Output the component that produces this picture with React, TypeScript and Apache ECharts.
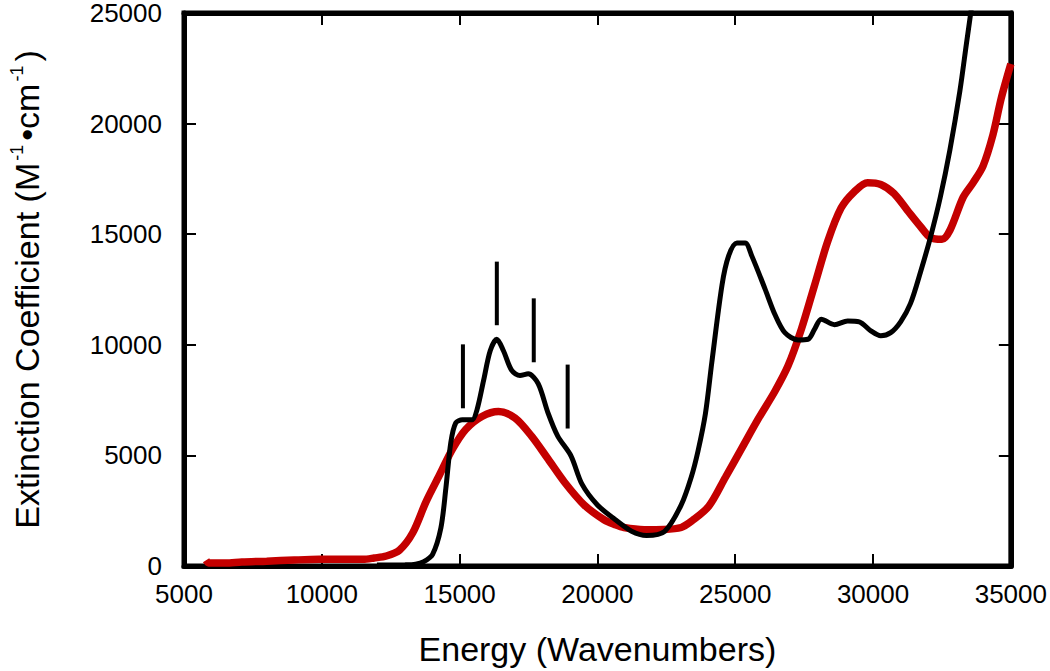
import React, { useEffect, useRef } from "react";
import * as echarts from "echarts";

// Energy (cm^-1), extinction coefficient pairs
const blackSpectrum: [number, number][] = [
  [12000, 40], [13000, 50], [13400, 80], [13700, 200], [14020, 530], [14320, 1720],
  [14500, 3500], [14680, 5575], [14860, 6465], [15100, 6610], [15450, 6610], [15630, 7060],
  [15870, 8390], [16110, 9730], [16350, 10250], [16590, 9730], [16890, 8840], [17190, 8615],
  [17490, 8690], [17850, 8245], [18210, 6910], [18560, 5870], [19040, 4980], [19440, 3700],
  [20000, 2760], [20640, 2100], [21240, 1570], [21780, 1380], [22440, 1570], [23040, 2760],
  [23400, 4000], [23650, 5200], [23920, 6900], [24150, 9200], [24520, 12700],
  [24760, 14020], [25060, 14600], [25360, 14600], [25600, 14020], [26080, 12530], [26440, 11370],
  [26800, 10550], [27280, 10220], [27640, 10250], [27880, 10710], [28120, 11160], [28600, 10910],
  [29080, 11080], [29500, 11040], [29920, 10630], [30280, 10410], [30640, 10550], [31000, 11040],
  [31360, 11870], [31720, 13280], [32080, 14850], [32440, 16670], [32790, 18820], [33150, 21470],
  [33390, 23630], [33600, 25500], [33700, 26500],
];

const redSpectrum: [number, number][] = [
  [5800, 260], [5900, 140], [6500, 130], [7100, 180], [8000, 220], [9000, 270], [9900, 300],
  [11000, 300], [11500, 300], [11900, 360], [12340, 450], [12820, 720], [13300, 1500],
  [13780, 2900], [14260, 4090], [14740, 5280], [15220, 6170], [15810, 6760], [16410, 6985],
  [17010, 6690], [17610, 5870], [18210, 4835], [18800, 3800], [19520, 2760], [20240, 2090],
  [20640, 1870], [20960, 1740], [21700, 1640], [22400, 1650], [23040, 1740], [23440, 2050],
  [24040, 2700], [24640, 4000], [25240, 5330], [25840, 6660], [26440, 7900], [26920, 9060],
  [27400, 10710], [27880, 12700], [28360, 14690], [28840, 16180], [29320, 16920], [29800, 17330],
  [30280, 17250], [30760, 16840], [31240, 16090], [31720, 15350], [32080, 14850], [32500, 14770],
  [32790, 15180], [33270, 16670], [33630, 17330], [33990, 18080], [34350, 19490], [34650, 21140],
  [35000, 22700],
];

// Vibronic progression markers: energy, bottom, top
const markerX = [15120, 16350, 17690, 18920];
const markerBottom = [7130, 10885, 9210, 6215];
const markerTop = [10020, 13760, 12100, 9105];

const xMin = 5000;
const xMax = 35000;
const xStep = 5000;
const yMin = 0;
const yMax = 25000;
const yStep = 5000;

const FONT = "'Liberation Sans', Arial, Helvetica, sans-serif";

export default function App() {
  const ref = useRef<HTMLDivElement>(null);
  useEffect(() => {
    if (!ref.current) return;
    const chart = echarts.init(ref.current, undefined, { renderer: "svg" });
    const mkLine = () => ({ show: true, onZero: false, lineStyle: { color: "#000", width: 5 } });
    const mkTick = () => ({ show: true, inside: true, length: 12, lineStyle: { color: "#000", width: 2 } });
    const fmt = (v: number) => String(v);
    const markerSeries = markerX.map((x, i) => ({
      type: "line" as const,
      data: [[x, markerBottom[i]], [x, markerTop[i]]],
      symbol: "none",
      lineStyle: { color: "#000", width: 4 },
      z: 5,
    }));
    chart.setOption({
      animation: false,
      grid: {
        left: 178, right: 37, top: 10, bottom: 99, containLabel: false,
        show: true, borderColor: "#000", borderWidth: 5, backgroundColor: "transparent",
      },
      xAxis: [
        {
          type: "value", min: xMin, max: xMax, interval: xStep, position: "bottom",
          axisLine: mkLine(), axisTick: mkTick(), splitLine: { show: false },
          axisLabel: { color: "#000", fontSize: 26, fontFamily: FONT, margin: 15, formatter: fmt },
          name: "Energy (Wavenumbers)", nameLocation: "middle", nameGap: 66,
          nameTextStyle: { color: "#000", fontSize: 34, fontFamily: FONT },
        },
        {
          type: "value", min: xMin, max: xMax, interval: xStep, position: "top",
          axisLine: mkLine(), axisTick: mkTick(), splitLine: { show: false }, axisLabel: { show: false },
        },
      ],
      yAxis: [
        {
          type: "value", min: yMin, max: yMax, interval: yStep, position: "left",
          axisLine: mkLine(), axisTick: mkTick(), splitLine: { show: false },
          axisLabel: { color: "#000", fontSize: 26, fontFamily: FONT, margin: 22, formatter: fmt },
          name: "{a|Extinction Coefficient (M}{s|-1}{a|•cm}{s|-1}{a|)}",
          nameLocation: "middle", nameGap: 138,
          nameTextStyle: {
            color: "#000", fontSize: 34, fontFamily: FONT,
            rich: {
              a: { color: "#000", fontSize: 34, fontFamily: FONT, lineHeight: 38 },
              s: { color: "#000", fontSize: 18, fontFamily: FONT, verticalAlign: "top", lineHeight: 18, padding: [0, 4, 0, 2] },
            },
          },
        },
        {
          type: "value", min: yMin, max: yMax, interval: yStep, position: "right",
          axisLine: mkLine(), axisTick: mkTick(), splitLine: { show: false }, axisLabel: { show: false },
        },
      ],
      series: [
        {
          type: "line", data: redSpectrum, symbol: "none", smooth: 0.3,
          lineStyle: { color: "#c40000", width: 7.5 }, z: 2,
        },
        {
          type: "line", data: blackSpectrum, symbol: "none", smooth: 0.3,
          lineStyle: { color: "#000", width: 5 }, z: 3,
        },
        ...markerSeries,
      ],
    });
    return () => chart.dispose();
  }, []);
  return (
    <div
      ref={ref}
      style={{ position: "fixed", left: 0, top: 0, width: 1050, height: 671, background: "#fff" }}
    />
  );
}
